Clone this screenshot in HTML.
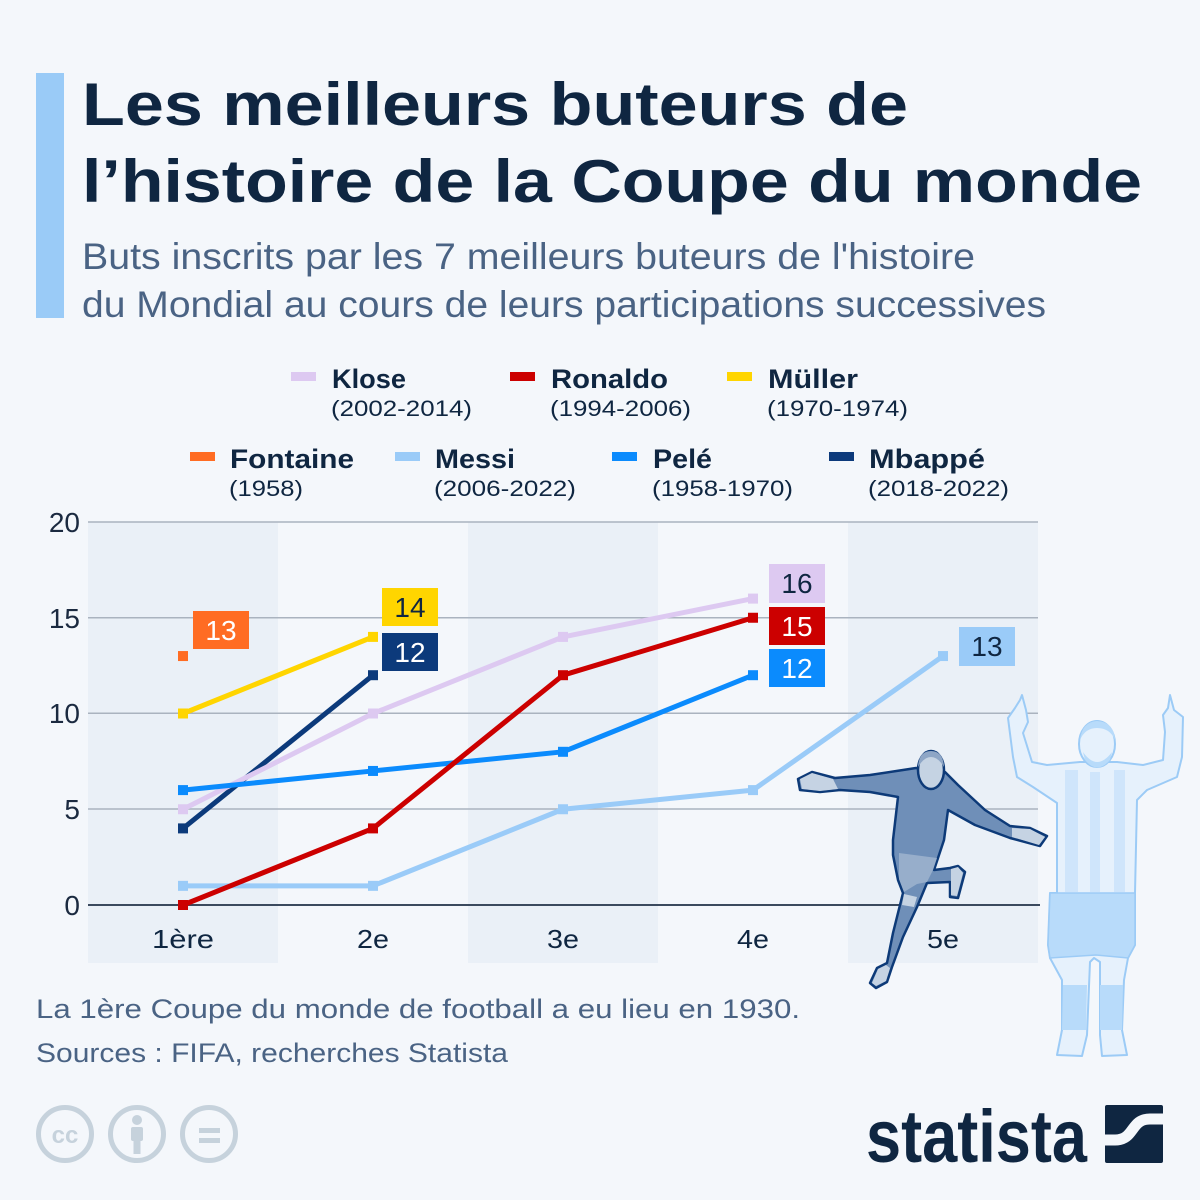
<!DOCTYPE html>
<html>
<head>
<meta charset="utf-8">
<style>
  html, body { margin: 0; padding: 0; background: #f4f7fb; }
  svg { display: block; }
  text { font-family: "Liberation Sans", Arial, sans-serif; }
</style>
</head>
<body>
<svg width="1200" height="1200" viewBox="0 0 1200 1200" xmlns="http://www.w3.org/2000/svg">
  <rect x="0" y="0" width="1200" height="1200" fill="#f4f7fb"/>

  <!-- Title bar -->
  <rect x="36" y="73" width="28" height="245" fill="#9acbf7"/>

  <!-- Title -->
  <text x="82" y="125" font-size="60" font-weight="bold" fill="#0f2641" textLength="826" lengthAdjust="spacingAndGlyphs">Les meilleurs buteurs de</text>
  <text x="82" y="202" font-size="60" font-weight="bold" fill="#0f2641" textLength="1060" lengthAdjust="spacingAndGlyphs">l’histoire de la Coupe du monde</text>

  <!-- Subtitle -->
  <text x="82" y="269" font-size="37" fill="#4a6384" textLength="893" lengthAdjust="spacingAndGlyphs">Buts inscrits par les 7 meilleurs buteurs de l'histoire</text>
  <text x="82" y="317" font-size="37" fill="#4a6384" textLength="964" lengthAdjust="spacingAndGlyphs">du Mondial au cours de leurs participations successives</text>

  <!-- Legend row 1 -->
  <g fill="#0f2641">
    <rect x="291" y="372" width="25" height="9" fill="#ddc9f1"/>
    <text x="332" y="388" font-size="27" font-weight="bold" textLength="74" lengthAdjust="spacingAndGlyphs">Klose</text>
    <text x="331" y="416" font-size="22" textLength="141" lengthAdjust="spacingAndGlyphs">(2002-2014)</text>

    <rect x="510" y="372" width="25" height="9" fill="#cc0000"/>
    <text x="551" y="388" font-size="27" font-weight="bold" textLength="117" lengthAdjust="spacingAndGlyphs">Ronaldo</text>
    <text x="550" y="416" font-size="22" textLength="141" lengthAdjust="spacingAndGlyphs">(1994-2006)</text>

    <rect x="727" y="372" width="25" height="9" fill="#ffd500"/>
    <text x="768" y="388" font-size="27" font-weight="bold" textLength="90" lengthAdjust="spacingAndGlyphs">Müller</text>
    <text x="767" y="416" font-size="22" textLength="141" lengthAdjust="spacingAndGlyphs">(1970-1974)</text>

    <!-- Legend row 2 -->
    <rect x="190" y="452" width="25" height="9" fill="#ff6c23"/>
    <text x="230" y="468" font-size="27" font-weight="bold" textLength="124" lengthAdjust="spacingAndGlyphs">Fontaine</text>
    <text x="229" y="496" font-size="22" textLength="74" lengthAdjust="spacingAndGlyphs">(1958)</text>

    <rect x="395" y="452" width="25" height="9" fill="#9acbf8"/>
    <text x="435" y="468" font-size="27" font-weight="bold" textLength="80" lengthAdjust="spacingAndGlyphs">Messi</text>
    <text x="434" y="496" font-size="22" textLength="142" lengthAdjust="spacingAndGlyphs">(2006-2022)</text>

    <rect x="612" y="452" width="25" height="9" fill="#0b8bfd"/>
    <text x="653" y="468" font-size="27" font-weight="bold" textLength="59" lengthAdjust="spacingAndGlyphs">Pelé</text>
    <text x="652" y="496" font-size="22" textLength="141" lengthAdjust="spacingAndGlyphs">(1958-1970)</text>

    <rect x="829" y="452" width="25" height="9" fill="#0c3a7b"/>
    <text x="869" y="468" font-size="27" font-weight="bold" textLength="116" lengthAdjust="spacingAndGlyphs">Mbappé</text>
    <text x="868" y="496" font-size="22" textLength="141" lengthAdjust="spacingAndGlyphs">(2018-2022)</text>
  </g>

  <!-- Chart columns -->
  <rect x="88" y="522" width="190" height="441" fill="#eaf0f7"/>
  <rect x="468" y="522" width="190" height="441" fill="#eaf0f7"/>
  <rect x="848" y="522" width="190" height="441" fill="#eaf0f7"/>

  <!-- Grid lines -->
  <g stroke="#aab3bf" stroke-width="1.5">
    <line x1="88" y1="522" x2="1038" y2="522"/>
    <line x1="88" y1="617.7" x2="1038" y2="617.7"/>
    <line x1="88" y1="713.3" x2="1038" y2="713.3"/>
    <line x1="88" y1="809" x2="1038" y2="809"/>
  </g>
  <line x1="88" y1="905" x2="1040" y2="905" stroke="#3b4a5e" stroke-width="2"/>

  <!-- Y labels -->
  <g font-size="28" fill="#1b2a40" text-anchor="end">
    <text x="80" y="532">20</text>
    <text x="80" y="628">15</text>
    <text x="80" y="723">10</text>
    <text x="80" y="819">5</text>
    <text x="80" y="915">0</text>
  </g>

  <!-- X labels -->
  <g font-size="26" fill="#0f2641" text-anchor="middle">
    <text x="183" y="948" textLength="62" lengthAdjust="spacingAndGlyphs">1ère</text>
    <text x="373" y="948" textLength="32" lengthAdjust="spacingAndGlyphs">2e</text>
    <text x="563" y="948" textLength="32" lengthAdjust="spacingAndGlyphs">3e</text>
    <text x="753" y="948" textLength="32" lengthAdjust="spacingAndGlyphs">4e</text>
    <text x="943" y="948" textLength="32" lengthAdjust="spacingAndGlyphs">5e</text>
  </g>

  <!-- Series -->
  <g fill="none" stroke-width="5" stroke-linejoin="round">
    <polyline stroke="#9acbf8" points="183,885.85 373,885.85 563,809.25 753,790.1 943,656.05"/>
    <polyline stroke="#0c3a7b" points="183,828.4 373,675.2"/>
    <polyline stroke="#ddc9f1" points="183,809.25 373,713.5 563,636.9 753,598.6"/>
    <polyline stroke="#0b8bfd" points="183,790.1 373,770.95 563,751.8 753,675.2"/>
    <polyline stroke="#cc0000" points="183,905 373,828.4 563,675.2 753,617.75"/>
    <polyline stroke="#ffd500" points="183,713.5 373,636.9"/>
  </g>
  <!-- markers -->
  <g>
    <g fill="#9acbf8">
      <rect x="178" y="880.85" width="10" height="10"/>
      <rect x="368" y="880.85" width="10" height="10"/>
      <rect x="558" y="804.25" width="10" height="10"/>
      <rect x="748" y="785.1" width="10" height="10"/>
      <rect x="938" y="651.05" width="10" height="10"/>
    </g>
    <g fill="#0c3a7b">
      <rect x="178" y="823.4" width="10" height="10"/>
      <rect x="368" y="670.2" width="10" height="10"/>
    </g>
    <g fill="#ddc9f1">
      <rect x="178" y="804.25" width="10" height="10"/>
      <rect x="368" y="708.5" width="10" height="10"/>
      <rect x="558" y="631.9" width="10" height="10"/>
      <rect x="748" y="593.6" width="10" height="10"/>
    </g>
    <g fill="#0b8bfd">
      <rect x="178" y="785.1" width="10" height="10"/>
      <rect x="368" y="765.95" width="10" height="10"/>
      <rect x="558" y="746.8" width="10" height="10"/>
      <rect x="748" y="670.2" width="10" height="10"/>
    </g>
    <g fill="#cc0000">
      <rect x="178" y="900" width="10" height="10"/>
      <rect x="368" y="823.4" width="10" height="10"/>
      <rect x="558" y="670.2" width="10" height="10"/>
      <rect x="748" y="612.75" width="10" height="10"/>
    </g>
    <g fill="#ffd500">
      <rect x="178" y="708.5" width="10" height="10"/>
      <rect x="368" y="631.9" width="10" height="10"/>
    </g>
    <rect x="178" y="651.05" width="10" height="10" fill="#ff6c23"/>
  </g>

  <!-- Value labels -->
  <g font-size="28" text-anchor="middle">
    <rect x="193" y="611" width="56" height="38" fill="#ff6c23"/>
    <text x="221" y="640" fill="#ffffff">13</text>

    <rect x="382" y="588" width="56" height="38" fill="#ffd500"/>
    <text x="410" y="617" fill="#0f2641">14</text>

    <rect x="382" y="633" width="56" height="38" fill="#0c3a7b"/>
    <text x="410" y="662" fill="#ffffff">12</text>

    <rect x="769" y="564" width="56" height="39" fill="#ddc9f1"/>
    <text x="797" y="593" fill="#0f2641">16</text>

    <rect x="769" y="607" width="56" height="38" fill="#cc0000"/>
    <text x="797" y="636" fill="#ffffff">15</text>

    <rect x="769" y="649" width="56" height="38" fill="#0b8bfd"/>
    <text x="797" y="678" fill="#ffffff">12</text>

    <rect x="959" y="627" width="56" height="39" fill="#9acbf8"/>
    <text x="987" y="656" fill="#0f2641">13</text>
  </g>

  <!-- Player 2 (light, raised arms) -->
  <g stroke="#9ccbf6" stroke-width="2" stroke-linejoin="round">
    <path fill="#e6f1fc" d="M1022,695 L1026,710 L1028,722 L1023,733 L1032,762 L1047,765 L1080,762
      L1117,762 L1143,765 L1163,760 L1165,732 L1163,715 L1168,708 L1170,695 L1174,710 L1183,717
      L1182,757 L1177,777 L1147,790 L1137,800 L1135,893 L1135,945 L1128,958 L1124,980 L1122,1030
      L1127,1055 L1102,1056 L1100,1035 L1100,962 L1094,958 L1090,962 L1087,1035 L1082,1056
      L1057,1055 L1062,1030 L1062,980 L1050,958 L1048,945 L1050,893 L1057,893 L1057,803
      L1033,787 L1017,777 L1013,757 L1008,718 L1015,708 L1020,700 Z"/>
  </g>
  <g fill="#cfe5fb">
    <rect x="1065" y="770" width="13" height="122"/>
    <rect x="1090" y="772" width="10" height="120"/>
    <rect x="1114" y="770" width="11" height="122"/>
  </g>
  <path fill="#b8dbfa" stroke="#9ccbf6" stroke-width="1.5" d="M1050,893 L1135,893 L1135,945 L1128,958 L1096,955 L1050,958 L1048,945 Z"/>
  <path fill="#b8dbfa" d="M1063,985 L1087,985 L1086,1030 L1062,1030 Z M1100,985 L1123,985 L1122,1030 L1100,1030 Z"/>
  <ellipse cx="1097" cy="744" rx="18" ry="23" fill="#e6f1fc" stroke="#9ccbf6" stroke-width="2"/>
  <path fill="#b8dbfa" d="M1083,752 Q1097,772 1112,752 L1110,760 Q1097,775 1085,760 Z"/>
  <path fill="#b8dbfa" d="M1080,740 Q1082,722 1097,721 Q1114,722 1115,740 Q1110,728 1097,728 Q1085,728 1080,740 Z"/>

  <!-- Player 1 (dark, celebrating) -->
  <g stroke="#0d3a78" stroke-width="2.5" stroke-linejoin="round">
    <path fill="#6f8fb8" d="M798,779 L812,772 L835,778 L870,775 L903,770 L916,768 L945,772 L958,785
      L985,810 L1010,826 L1030,828 L1047,836 L1040,846 L1010,838 L975,825 L948,810 L944,840
      L938,858 L934,870 L950,868 L958,866 L965,872 L958,898 L950,897 L950,882 L927,883
      L917,907 L903,937 L892,967 L887,982 L876,988 L870,983 L877,968 L887,963 L893,933 L903,893
      L898,880 L893,855 L893,840 L898,797 L870,792 L840,790 L820,792 L800,790 Z"/>
  </g>
  <g fill="#c5d3e3">
    <path d="M800,779 L812,773 L833,779 L838,789 L820,791 L802,789 Z"/>
    <path d="M1012,828 L1030,829 L1045,837 L1039,845 L1012,837 Z"/>
    <path d="M951,869 L958,867 L963,873 L957,896 L951,895 Z"/>
    <path d="M886,965 L890,968 L886,981 L876,986 L872,983 L878,969 Z"/>
    <path d="M904,894 L917,897 L914,907 L902,905 Z"/>
  </g>
  <path fill="#97aecb" d="M899,853 L937,858 L933,870 L927,882 L917,884 L904,892 L899,879 Z"/>
  <ellipse cx="931" cy="770" rx="13" ry="19" fill="#c5d3e3" stroke="#0d3a78" stroke-width="2.5"/>
  <path fill="#8ea6c6" d="M918,767 Q919,751 931,751 Q943,751 944,767 Q938,757 931,757 Q924,757 918,767 Z"/>

  <!-- Footer -->
  <text x="36" y="1018" font-size="27" fill="#4a6384" textLength="764" lengthAdjust="spacingAndGlyphs">La 1ère Coupe du monde de football a eu lieu en 1930.</text>
  <text x="36" y="1062" font-size="27" fill="#4a6384" textLength="472" lengthAdjust="spacingAndGlyphs">Sources : FIFA, recherches Statista</text>

  <!-- CC icons -->
  <g fill="none" stroke="#c6d2dc" stroke-width="5">
    <circle cx="65" cy="1134" r="26.5"/>
    <circle cx="137" cy="1134" r="26.5"/>
    <circle cx="209" cy="1134" r="26.5"/>
  </g>
  <text x="65" y="1143" font-size="24" font-weight="bold" fill="#c6d2dc" text-anchor="middle">cc</text>
  <circle cx="137" cy="1120" r="5" fill="#c6d2dc"/>
  <rect x="131" y="1127" width="12" height="14" rx="2" fill="#c6d2dc"/>
  <rect x="133.5" y="1139" width="7" height="15" fill="#c6d2dc"/>
  <rect x="199" y="1128" width="21" height="5" fill="#c6d2dc"/>
  <rect x="199" y="1138" width="21" height="5" fill="#c6d2dc"/>

  <!-- Statista logo -->
  <text x="866" y="1162" font-size="74" font-weight="bold" fill="#0f2641" textLength="221" lengthAdjust="spacingAndGlyphs">statista</text>
  <defs>
    <clipPath id="lg"><rect x="1105" y="1105" width="58" height="58" rx="2"/></clipPath>
  </defs>
  <rect x="1105" y="1105" width="58" height="58" rx="2" fill="#0f2641"/>
  <path clip-path="url(#lg)" d="M1100,1140 L1115,1140 C1135,1140 1130,1119 1150,1119 L1168,1119" fill="none" stroke="#f4f7fb" stroke-width="11"/>
</svg>
</body>
</html>
